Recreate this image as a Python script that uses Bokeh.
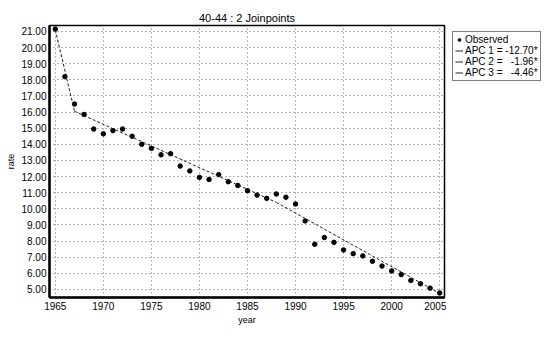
from bokeh.plotting import figure
from bokeh.models import Range1d, FixedTicker, Legend, LegendItem, NumeralTickFormatter
from bokeh.layouts import row
from bokeh.embed import file_html
from bokeh.resources import INLINE

years = list(range(1965, 2006))
observed = [21.15, 18.2, 16.5, 15.85, 14.95, 14.65, 14.85, 14.95, 14.5, 14.0,
            13.75, 13.35, 13.42, 12.65, 12.35, 11.95, 11.82, 12.12, 11.68, 11.45,
            11.12, 10.85, 10.65, 10.92, 10.72, 10.3, 9.25, 7.8, 8.22, 7.92,
            7.45, 7.22, 7.08, 6.75, 6.45, 6.15, 5.92, 5.56, 5.35, 5.08, 4.78]

seg1_years = [1965, 1967]
seg1_fit = [21.1, 16.05]
seg2_years = [1967, 1988]
seg2_fit = [16.05, 10.4]
seg3_years = [1988, 2005]
seg3_fit = [10.4, 4.75]

x_ticks = [1965, 1970, 1975, 1980, 1985, 1990, 1995, 2000, 2005]
y_ticks = list(range(5, 22))

title_text = "40-44 : 2 Joinpoints"
labels = ["Observed", "APC 1 = -12.70*", "APC 2 = \u00a0\u00a0-1.96*", "APC 3 = \u00a0\u00a0-4.46*"]

FONT = "Liberation Sans"
FIT_COLOR = "#222222"
FIT_DASH = "3 2"

p = figure(width=446, height=327, output_backend="svg", toolbar_location=None,
           x_range=Range1d(1964.4, 2005.5), y_range=Range1d(4.5, 21.37),
           min_border_left=49, min_border_right=2, min_border_top=25, min_border_bottom=28,
           title=title_text)

p.title.align = "center"
p.title.text_font = FONT
p.title.text_font_size = "11px"
p.title.text_font_style = "normal"
p.title.text_color = "black"
p.title.standoff = 4

p.outline_line_color = "black"
p.outline_line_width = 1.5

for ax in (p.xaxis, p.yaxis):
    ax.axis_line_width = 2.5
    ax.axis_line_color = "black"
    ax.major_tick_in = 0
    ax.major_tick_out = 0
    ax.minor_tick_in = 0
    ax.minor_tick_out = 0
    ax.major_label_text_font = FONT
    ax.major_label_text_font_size = "10px"
    ax.major_label_text_color = "black"
    ax.axis_label_text_font = FONT
    ax.axis_label_text_font_size = "9px"
    ax.axis_label_text_font_style = "normal"
    ax.axis_label_text_color = "black"

p.xaxis.ticker = FixedTicker(ticks=x_ticks)
p.yaxis.ticker = FixedTicker(ticks=y_ticks)
p.yaxis.formatter = NumeralTickFormatter(format="0.00")
p.xaxis.axis_label = "year"
p.yaxis.axis_label = "rate"
p.xaxis.major_label_standoff = 4
p.yaxis.major_label_standoff = 3
p.xaxis.axis_label_standoff = 2
p.yaxis.axis_label_standoff = 2

for g in (p.xgrid, p.ygrid):
    g.grid_line_color = "#666666"
    g.grid_line_dash = "1 3"
    g.grid_line_width = 1

p.scatter(years, observed, size=4.5, color="black")
p.line(seg1_years, seg1_fit, line_color=FIT_COLOR, line_width=1, line_dash=FIT_DASH)
p.line(seg2_years, seg2_fit, line_color=FIT_COLOR, line_width=1, line_dash=FIT_DASH)
p.line(seg3_years, seg3_fit, line_color=FIT_COLOR, line_width=1, line_dash=FIT_DASH)

# legend panel: a bare figure whose ranges lie away from the data, so only the legend shows
q = figure(width=95, height=327, output_backend="svg", toolbar_location=None,
           x_range=Range1d(0, 1), y_range=Range1d(0, 1),
           x_axis_type=None, y_axis_type=None,
           min_border_left=0, min_border_right=0, min_border_top=23, min_border_bottom=0)
q.outline_line_color = None
q.grid.visible = False
q_obs = q.scatter(years, observed, size=4, color="black")
q_l1 = q.line(seg1_years, seg1_fit, line_color=FIT_COLOR, line_width=1)
q_l2 = q.line(seg2_years, seg2_fit, line_color=FIT_COLOR, line_width=1)
q_l3 = q.line(seg3_years, seg3_fit, line_color=FIT_COLOR, line_width=1)

legend = Legend(items=[LegendItem(label=labels[0], renderers=[q_obs]),
                       LegendItem(label=labels[1], renderers=[q_l1]),
                       LegendItem(label=labels[2], renderers=[q_l2]),
                       LegendItem(label=labels[3], renderers=[q_l3])],
                location="top_left")
legend.label_text_font = FONT
legend.label_text_font_size = "10px"
legend.label_text_color = "black"
legend.label_height = 7
legend.label_standoff = 2
legend.glyph_height = 7
legend.glyph_width = 8
legend.spacing = 0
legend.padding = 2
legend.margin = 6
legend.border_line_color = "black"
legend.border_line_width = 1
legend.background_fill_alpha = 1
q.add_layout(legend, "center")

layout = row(p, q, spacing=0)
open("out.html", "w").write(file_html(layout, INLINE))
